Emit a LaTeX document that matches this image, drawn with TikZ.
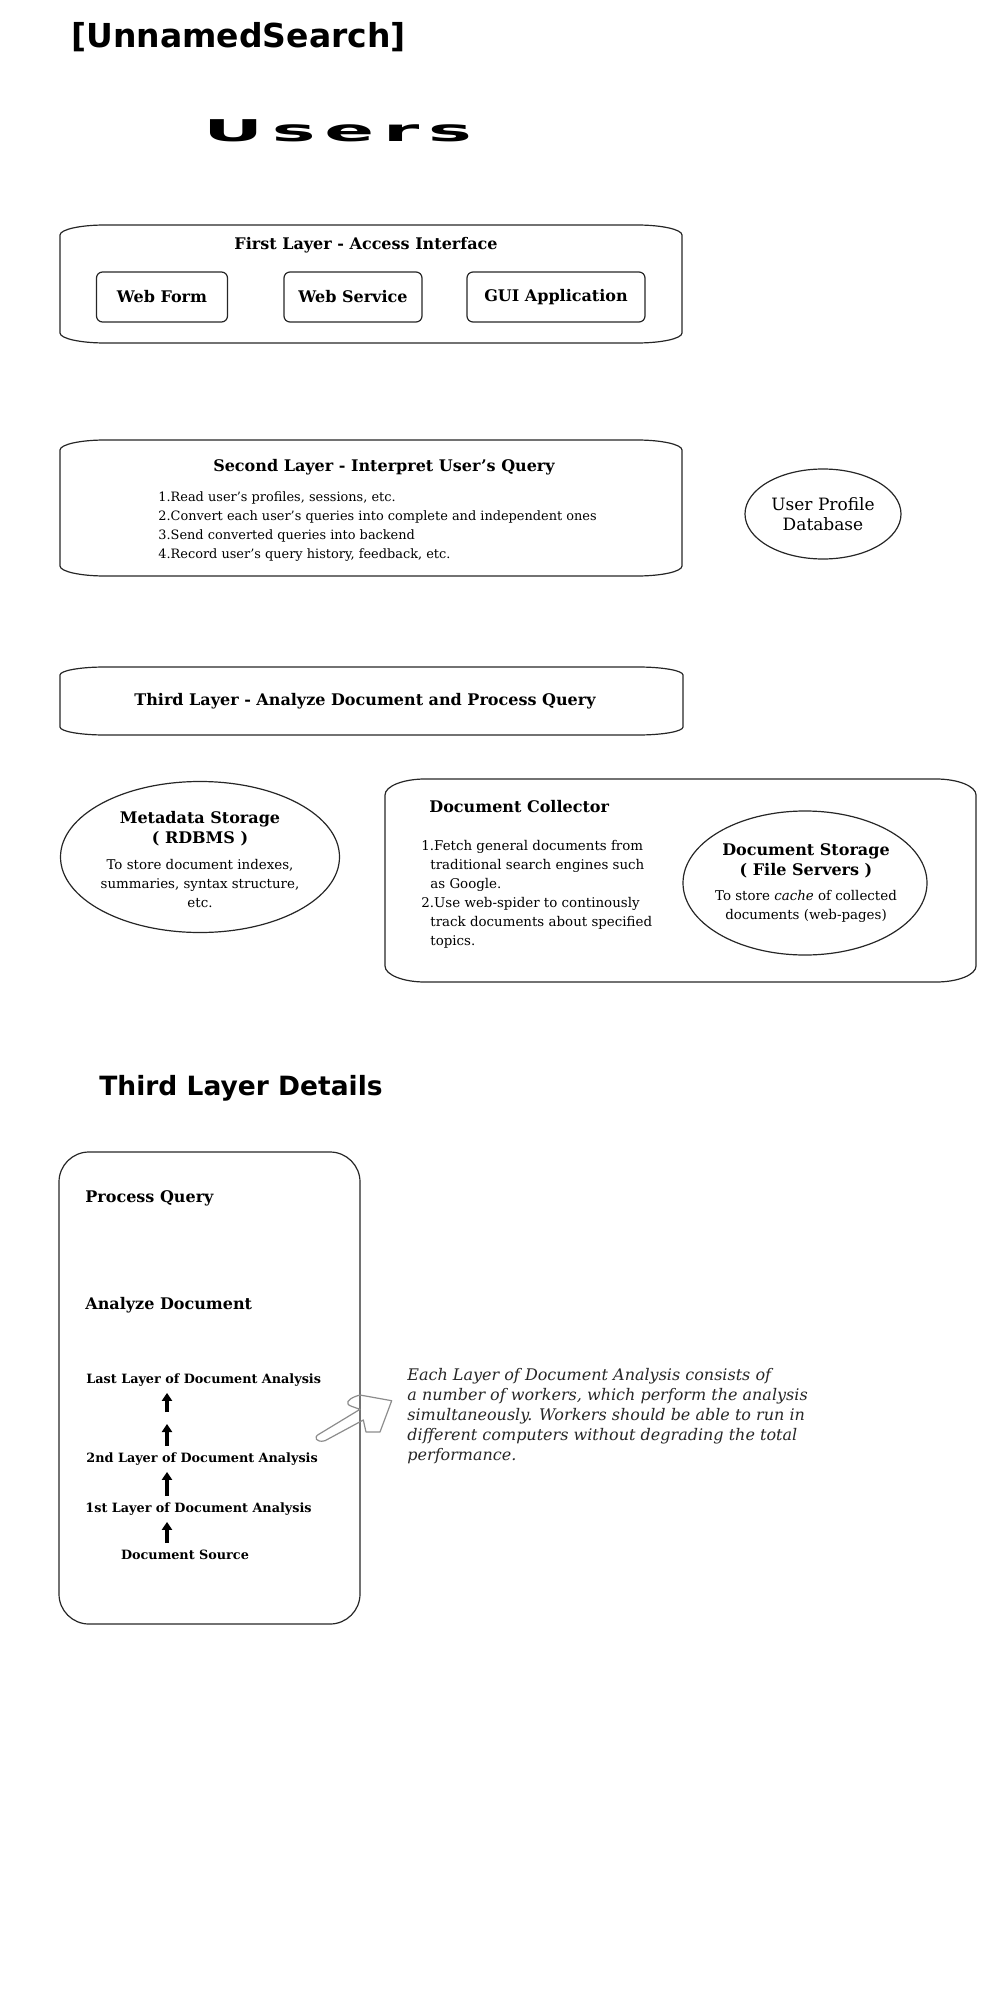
\documentclass[tikz,border=0pt]{standalone}
\usepackage{fontspec}
\setmainfont{DejaVu Serif}
\newfontfamily\headfont{DejaVu Sans}
\newfontfamily\usersfont{DejaVu Sans}[LetterSpace=12]
\usetikzlibrary{shapes.geometric,arrows.meta}

\tikzset{
  outline/.style={line width=0.6pt, draw=black!85},
  heading/.style={font=\bfseries\fontsize{8}{10}\selectfont, inner sep=0pt},
  plain/.style={font=\fontsize{6.7}{9.5}\selectfont, inner sep=0pt},
  smallbox/.style={heading, outline, rounded corners=3pt, minimum height=25pt},
  store/.style={outline, ellipse, inner sep=0pt},
  detail/.style={font=\bfseries\fontsize{6.4}{8}\selectfont, inner sep=0pt, text height=5pt, text depth=1.5pt, anchor=west},
  uparrow/.style={line width=2pt, -{Triangle[width=5pt,length=4pt]}, shorten <=3pt, shorten >=3pt},
}

\newcommand{\layerbox}[6]{%
  \draw[outline] (#1,#2+#6) .. controls (#1,#2+0.45*#6) and (#1+0.45*#5,#2) .. (#1+#5,#2)
    -- (#3-#5,#2) .. controls (#3-0.45*#5,#2) and (#3,#2+0.45*#6) .. (#3,#2+#6)
    -- (#3,#4-#6) .. controls (#3,#4-0.45*#6) and (#3-0.45*#5,#4) .. (#3-#5,#4)
    -- (#1+#5,#4) .. controls (#1+0.45*#5,#4) and (#1,#4-0.45*#6) .. (#1,#4-#6) -- cycle;}

\begin{document}
\begin{tikzpicture}[x=0.5pt,y=-0.5pt]
\useasboundingbox (0,0) rectangle (1000,2000);

\node[anchor=base west, inner sep=0pt, font=\headfont\bfseries\fontsize{16.5}{20}\selectfont] (title) at (71,47.6) {[UnnamedSearch]};
\node[anchor=base west, inner sep=0pt, font=\usersfont\bfseries\fontsize{15}{18}\selectfont] (users) at (203,142) {\scalebox{2.45}[1]{Users}};

\layerbox{60}{225}{682}{343}{45}{10}
\node[heading] (l1) at (366,245) {First Layer - Access Interface};
\node[smallbox, minimum width=65.5pt] (wf) at (162,297) {Web Form};
\node[smallbox, minimum width=69pt] (ws) at (353,297) {Web Service};
\node[smallbox, minimum width=89pt] (gui) at (556,297) {GUI Application};

\layerbox{60}{440}{682}{576}{45}{10}
\node[heading] (l2) at (384,467) {Second Layer - Interpret User's Query};
\node[plain, font=\fontsize{6.45}{9.5}\selectfont, anchor=north west, align=left] (l2list) at (158,491) {1.Read user's profiles, sessions, etc.\\2.Convert each user's queries into complete and independent ones\\3.Send converted queries into backend\\4.Record user's query history, feedback, etc.};

\node[store, minimum width=78pt, minimum height=45pt, align=center, font=\fontsize{8.5}{10}\selectfont] (profile) at (823,514) {User Profile\\Database};

\layerbox{60}{667}{683}{735}{45}{8}
\node[heading] (l3) at (365,701) {Third Layer - Analyze Document and Process Query};

\node[store, minimum width=139.5pt, minimum height=75.5pt] (meta) at (200,857) {};
\node[heading, anchor=north, align=center] (metatitle) at (200,811) {Metadata Storage\\( RDBMS )};
\node[plain, anchor=north, align=center] (metadesc) at (200,859) {To store document indexes,\\summaries, syntax structure,\\etc.};

\layerbox{385}{779}{976}{982}{40}{16}
\node[heading, anchor=west] (coll) at (429,807) {Document Collector};
\node[plain, anchor=north west, align=left] (colllist) at (421,840) {1.Fetch general documents from\\\hspace*{4.5pt}traditional search engines such\\\hspace*{4.5pt}as Google.\\2.Use web-spider to continously\\\hspace*{4.5pt}track documents about specified\\\hspace*{4.5pt}topics.};

\node[store, minimum width=122pt, minimum height=72pt] (docstore) at (805,883) {};
\node[heading, anchor=north, align=center] (storetitle) at (806,843) {Document Storage\\( File Servers )};
\node[plain, anchor=north, align=center] (storedesc) at (806,890) {To store \textit{cache} of collected\\documents (web-pages)};

\node[anchor=base west, inner sep=0pt, font=\headfont\bfseries\fontsize{13.25}{16}\selectfont] (details) at (99,1095) {Third Layer Details};
\draw[outline, rounded corners=15pt] (59,1152) rectangle (360,1624);
\node[heading, anchor=west] (pq) at (85,1198) {Process Query};
\node[heading, anchor=west] (ad) at (85,1305) {Analyze Document};
\node[detail] (last) at (86,1380) {Last Layer of Document Analysis};
\node[detail] (second) at (86,1459) {2nd Layer of Document Analysis};
\node[detail] (first) at (85,1509) {1st Layer of Document Analysis};
\node[detail, anchor=center] (src) at (185,1556) {Document Source};
\coordinate (ax) at (167,1418);
\draw[uparrow] (src.north -| ax) -- (first.south -| ax);
\draw[uparrow] (first.north -| ax) -- (second.south -| ax);
\draw[uparrow] (second.north -| ax) -- (ax);
\draw[uparrow] (ax) -- (last.south -| ax);

\draw[draw=black!45, line width=0.6pt, line join=round] (325,1440.7) -- (363.3,1420) -- (366,1432) -- (380,1432) -- (391.7,1400.7) -- (360,1395) .. controls (352,1397) and (346,1401) .. (348,1404) .. controls (349,1406) and (354,1407) .. (360,1409.3) -- (319.3,1434) .. controls (313,1437) and (316,1443) .. (325,1440.7) -- cycle;

\node[anchor=north west, inner sep=0pt, align=left, font=\itshape\fontsize{8}{10}\selectfont, text=black!85] (note) at (407,1368) {Each Layer of Document Analysis consists of\\a number of workers, which perform the analysis\\simultaneously. Workers should be able to run in\\different computers without degrading the total\\performance.};

\end{tikzpicture}
\end{document}
